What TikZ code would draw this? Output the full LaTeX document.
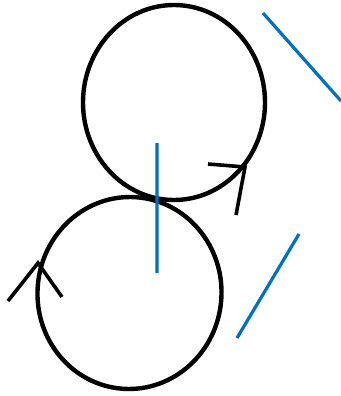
\documentclass[tikz,border=0pt]{standalone}
\usepackage{xcolor}
\usepackage{tikz}
\usetikzlibrary{calc}
\definecolor{lineblue}{RGB}{0,112,192}

\begin{document}
\begin{tikzpicture}[x=0.75pt,y=-0.75pt,
    ring/.style={draw=black,line width=3.3pt},
    chevron/.style={draw=black,line width=2.7pt},
    guide/.style={draw=lineblue,line width=2.4pt}]
    \useasboundingbox (0,0) rectangle (341,396);
    \coordinate (c1) at (174,102.5); 
    \coordinate (c2) at (129.5,293); 
    
    \draw[ring] (c1) ellipse [x radius=91,y radius=97.5];
    \draw[ring,rotate around={-4:(c2)}] (c2) ellipse [x radius=92,y radius=96];
    
    % arrow heads on the loops
    \coordinate (t1) at (245,167); 
    \coordinate (t2) at (38,263); 
    \draw[chevron] (208,164) -- (t1) -- (236,215);
    \draw[chevron] (8,301) -- (t2) -- (62,297);
    
    \coordinate (a1) at (157,143); \coordinate (a2) at (157,273);
    \coordinate (b1) at (263,13); \coordinate (b2) at (341,101);
    \coordinate (d1) at (299,234); \coordinate (d2) at (237,338);
    \draw[guide] (a1)--(a2) (b1)--(b2) (d1)--(d2);

\end{tikzpicture}
\end{document}
